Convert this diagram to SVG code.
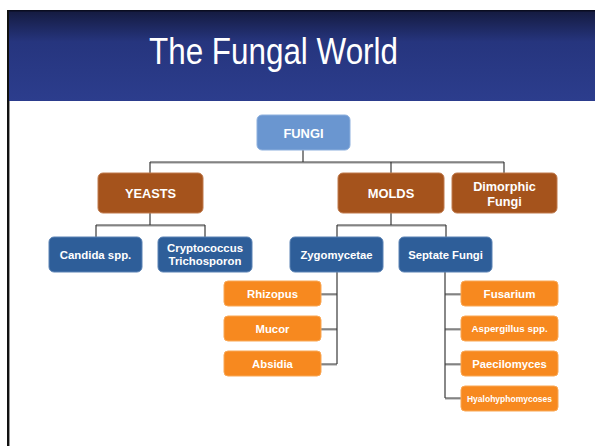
<svg xmlns="http://www.w3.org/2000/svg" width="595" height="446" viewBox="0 0 595 446">
<defs>
<linearGradient id="hdr" x1="0" y1="0" x2="0" y2="1">
<stop offset="0" stop-color="#141a3e"/>
<stop offset="0.35" stop-color="#26357e"/>
<stop offset="1" stop-color="#2c3d8d"/>
</linearGradient>
</defs>
<style>
.box{stroke-width:1}
.top{fill:#6a96d0;stroke:#8db0de}
.l1{fill:#a5531c;stroke:#c07a4c}
.l2{fill:#2e5e99;stroke:#5a82b4}
.l3{fill:#f7891f;stroke:#f9a856}
text{font-family:"Liberation Sans",Arial,sans-serif;font-weight:bold;fill:#ffffff;text-anchor:middle}
.con{fill:none;stroke:#3a3a3a;stroke-width:1.2}
.sh{fill:none;stroke:#9a9a9a;stroke-width:1}
</style>
<rect x="0" y="0" width="595" height="446" fill="#ffffff"/>
<rect x="7" y="10" width="588" height="91" fill="url(#hdr)"/>
<rect x="7" y="10" width="588" height="1.5" fill="#0a0d20"/>
<rect x="7" y="10" width="2" height="436" fill="#111111"/>
<rect x="9" y="101" width="1" height="345" fill="#999999"/>
<text x="273.5" y="63.5" font-size="36" textLength="249" lengthAdjust="spacingAndGlyphs" style="font-weight:normal">The Fungal World</text>
<g id="connectors">
<g class="sh">
<path d="M150,163 H504 M96,226 H205 M337,226 H446 M321,295 H337 M321,330 H337 M321,365 H337 M445,295 H461 M445,330 H461 M445,365 H461 M445,399 H461"/>
</g>
<g class="con">
<path d="M303,150 V162 M150,162 H504 M150,162 V173 M391,162 V173 M504,162 V173"/>
<path d="M150,213 V225 M96,225 H205 M96,225 V237 M205,225 V237"/>
<path d="M391,213 V225 M337,225 H446 M337,225 V237 M446,225 V237"/>
<path d="M337,272 V364 M321,294 H337 M321,329 H337 M321,364 H337"/>
<path d="M445,272 V398 M445,294 H461 M445,329 H461 M445,364 H461 M445,398 H461"/>
</g>
</g>
<g id="fungi"><rect class="box top" x="257" y="115" width="93" height="35" rx="5"/><text x="303.5" y="137.5" font-size="12.9">FUNGI</text></g>
<g id="yeasts"><rect class="box l1" x="98" y="173" width="105" height="40" rx="5"/><text x="150.5" y="198" font-size="12.8">YEASTS</text></g>
<g id="molds"><rect class="box l1" x="338" y="173" width="106" height="40" rx="5"/><text x="391" y="198" font-size="12.9">MOLDS</text></g>
<g id="dimorphic"><rect class="box l1" x="452" y="173" width="105" height="40" rx="5"/><text x="504.5" y="190.5" font-size="12.7">Dimorphic</text><text x="504.5" y="206" font-size="12.7">Fungi</text></g>
<g id="candida"><rect class="box l2" x="49" y="237" width="93" height="35" rx="5"/><text x="95.5" y="258.5" font-size="11.4">Candida spp.</text></g>
<g id="cryptococcus"><rect class="box l2" x="158" y="237" width="94" height="35" rx="5"/><text x="205" y="251.5" font-size="11.4">Cryptococcus</text><text x="205" y="264.5" font-size="11.4">Trichosporon</text></g>
<g id="zygomycetae"><rect class="box l2" x="290" y="237" width="93" height="35" rx="5"/><text x="336.5" y="258.5" font-size="11.3">Zygomycetae</text></g>
<g id="septate"><rect class="box l2" x="399" y="237" width="93" height="35" rx="5"/><text x="445.5" y="258.5" font-size="11.3">Septate Fungi</text></g>
<g id="rhizopus"><rect class="box l3" x="224" y="281" width="97" height="25" rx="4"/><text x="272.5" y="297.5" font-size="11.3">Rhizopus</text></g>
<g id="mucor"><rect class="box l3" x="224" y="316" width="97" height="25" rx="4"/><text x="272.5" y="332.5" font-size="11.3">Mucor</text></g>
<g id="absidia"><rect class="box l3" x="224" y="351" width="97" height="25" rx="4"/><text x="272.5" y="367.5" font-size="11.3">Absidia</text></g>
<g id="fusarium"><rect class="box l3" x="461" y="281" width="97" height="25" rx="4"/><text x="509.5" y="297.5" font-size="11.5">Fusarium</text></g>
<g id="aspergillus"><rect class="box l3" x="461" y="316" width="97" height="25" rx="4"/><text x="509.5" y="332" font-size="9.8">Aspergillus spp.</text></g>
<g id="paecilomyces"><rect class="box l3" x="461" y="351" width="97" height="25" rx="4"/><text x="509.5" y="367.5" font-size="11.3">Paecilomyces</text></g>
<g id="hyalohyphomycoses"><rect class="box l3" x="461" y="386" width="97" height="25" rx="4"/><text x="509.5" y="401.5" font-size="8.5">Hyalohyphomycoses</text></g>
</svg>
